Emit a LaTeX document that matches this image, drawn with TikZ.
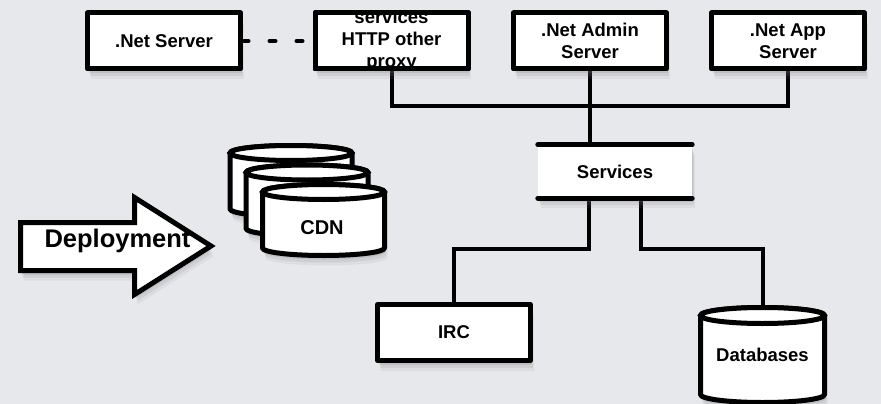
\documentclass[tikz,border=0pt]{standalone}
\usepackage{fontspec}
\setmainfont{Liberation Sans}
\usepackage{tikz}
\usetikzlibrary{positioning, calc, shadows, backgrounds}
\usepackage{xcolor}

\definecolor{sfondo}{HTML}{E6E8EB}

\tikzset{
  txt/.style={font=\fontsize{18.5}{22}\selectfont\bfseries, align=center, inner sep=0pt},
  ombra/.style={
    drop shadow={opacity=0.10, shadow xshift=3pt, shadow yshift=-10pt},
    drop shadow={opacity=0.14, shadow xshift=2pt, shadow yshift=-7pt},
    drop shadow={opacity=0.20, shadow xshift=1pt, shadow yshift=-4pt}},
  box/.style={txt, draw, line width=5pt, line join=round, fill=white, ombra,
    minimum width=153pt, minimum height=56pt, outer sep=0pt},
  cyl/.style={draw, line width=5pt, line join=round, fill=white, ombra},
  wire/.style={line width=4pt},
}

% cilindro: x0, y0, larghezza, altezza, raggio y
\newcommand{\cilindro}[5]{%
  \draw[cyl] (#1,#2+#5) -- (#1,#2+#4-#5)
    arc[start angle=180, end angle=360, x radius=#3/2*1pt, y radius=#5*1pt]
    -- (#1+#3,#2+#5)
    arc[start angle=0, end angle=180, x radius=#3/2*1pt, y radius=#5*1pt] -- cycle;
  \draw[line width=5pt, fill=white] (#1+#3/2,#2+#5) ellipse[x radius=#3/2*1pt, y radius=#5*1pt];
}

\begin{document}
\begin{tikzpicture}[x=1pt, y=-1pt]
  \useasboundingbox (0,0) rectangle (881,404);

  % Sfondo
  \begin{pgfonlayer}{background}
    \fill[sfondo] (0,0) rectangle (881,404);
  \end{pgfonlayer}

  % Server in alto
  \node (netsrv) [box] at (164,41) {.Net Server};
  \node (proxy) [box] at (391.5,41) {};
  \begin{scope}
    \clip (proxy.north west) rectangle (proxy.south east);
    \node (proxytxt) [txt] at (proxy.center) {services\\HTTP other\\proxy};
  \end{scope}
  \draw[line width=5pt, line join=round] (proxy.north west) rectangle (proxy.south east);
  \node (admin) [box] at (590,41) {.Net Admin\\Server};
  \node (app) [box] at (788,41) {.Net App\\Server};

  % Services
  \node (services) [txt, fill=white, ombra, minimum width=154pt, minimum height=53pt] at (615,171.5) {Services};
  \draw[line width=5pt, line cap=round] (services.north west) -- (services.north east);
  \draw[line width=5pt, line cap=round] (services.south west) -- (services.south east);

  % IRC e Databases
  \node (irc) [box] at (454,332.5) {IRC};
  \cilindro{700.5}{307.5}{124}{95}{8}
  \node (db) [txt, minimum width=124pt, minimum height=95pt] at (762.5,355) {Databases};

  % CDN
  \cilindro{230}{145.5}{122}{71}{7.5}
  \cilindro{246}{165}{122}{71}{7.5}
  \cilindro{262.5}{184.5}{122}{71}{7.5}
  \node (cdn) [txt, font=\fontsize{20}{24}\selectfont\bfseries] at (322,228) {CDN};

  % Freccia Deployment
  \draw[cyl, line join=miter] (20.5,222.5) -- (134.5,222.5) -- (134.5,197.5) -- (211,246)
    -- (134.5,294.5) -- (134.5,270.5) -- (20.5,270.5) -- cycle;
  \node (deploy) [txt, font=\fontsize{25.5}{30}\selectfont\bfseries] at (117.5,241) {Deployment};

  % Collegamenti
  \begin{pgfonlayer}{background}
    \draw[wire, line cap=round, dash pattern=on 6pt off 21pt, dash phase=-2pt] (netsrv.east) -- (proxy.west);
    \draw[wire] (proxy.south) -- ++(0,37) -| (app.south);
    \draw[wire] (admin.south) -- (admin.south |- services.north);
    \draw[wire] ([xshift=-26pt]services.south) -- ++(0,51) -| (irc.north);
    \draw[wire] ([xshift=26pt]services.south) -- ++(0,51) -| (db.north);
  \end{pgfonlayer}
\end{tikzpicture}
\end{document}
